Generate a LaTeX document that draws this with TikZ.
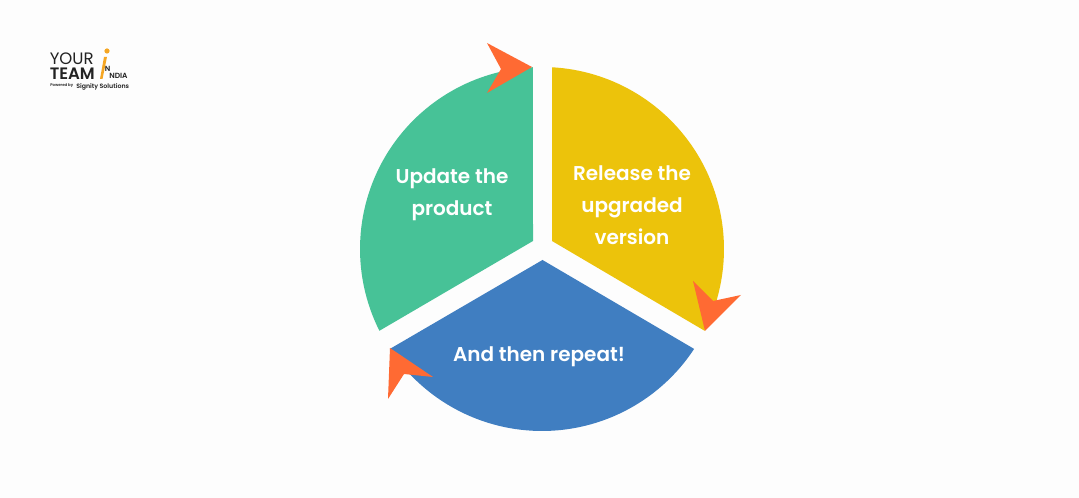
\documentclass[tikz,border=0pt]{standalone}
\usepackage{fontspec}
\setmainfont{Poppins}[BoldFont={Poppins SemiBold}]
\usetikzlibrary{calc}
\definecolor{pagegrey}{HTML}{FDFDFD}
\definecolor{wedgegreen}{HTML}{47C297}
\definecolor{wedgeyellow}{HTML}{ECC30B}
\definecolor{wedgeblue}{HTML}{407EC1}
\definecolor{tiporange}{HTML}{FF6A33}
\definecolor{logodark}{HTML}{222222}
\definecolor{logoorange}{HTML}{F5A623}
\def\sector[#1](#2)(#3:#4){\fill[#1] (#2) -- ($(542,249)+(#3:182)$) arc (#3:#4:182) -- cycle;}
\tikzset{
	steplabel/.style={text=white, font=\bfseries\fontsize{15}{24}\selectfont, align=center, inner sep=0pt},
	logotext/.style={text=logodark, inner sep=0pt, anchor=west},
	tipshape/.style={fill=tiporange}
}

\begin{document}
\begin{tikzpicture}[x=0.75pt, y=0.75pt]
	%%%%% PAGE %%%%%
	\fill[pagegrey] (0, 0) rectangle (1079, 498);
	\useasboundingbox (0, 0) rectangle (1079, 498);

	%%%%% WEDGES %%%%%
	\sector[wedgegreen](533, 257)(206.7:92.85);
	\sector[wedgeyellow](552, 257)(-26.7:86.85);
	\sector[wedgeblue](542.5, 238)(-33.3:-146.7);

	%%%%% TIPS %%%%%
	\fill[tipshape] (532, 431) -- (487, 455) -- (501, 429) -- (487, 405) -- cycle;
	\fill[tipshape] (705, 167) -- (693, 217) -- (713, 197) -- (741, 203) -- cycle;
	\fill[tipshape] (390, 150) -- (433, 121) -- (404, 124) -- (388, 99) -- cycle;

	%%%%% LABELS %%%%%
	\node[steplabel] (update) at (452, 303) {Update the\\product};
	\node[steplabel] (release) at (632, 293) {Release the\\upgraded\\version};
	\node[steplabel] (repeat) at (539, 141) {And then repeat!};

	%%%%% LOGO %%%%%
	\node[logotext, font=\fontsize{12.4}{12.4}\selectfont] (your) at (49.5, 439) {YOUR};
	\node[logotext, font=\bfseries\fontsize{12.4}{12.4}\selectfont] (team) at (49.5, 424.5) {TEAM};
	\node[logotext, font=\bfseries\fontsize{5.6}{5.6}\selectfont] (n) at (104.5, 429) {N};
	\node[logotext, font=\bfseries\fontsize{5.6}{5.6}\selectfont] (ndia) at (109, 422) {NDIA};
	\node[logotext, font=\bfseries\fontsize{2.9}{2.9}\selectfont] (powered) at (50, 412) {Powered by};
	\node[logotext, font=\bfseries\fontsize{4.7}{4.7}\selectfont] (signity) at (76, 411.5) {Signity Solutions};
	\fill[logoorange] (107, 447) circle (2.6);
	\fill[logoorange] (104, 441) -- (107, 441) -- (102.5, 419) -- (100, 419) -- cycle;
\end{tikzpicture}
\end{document}
